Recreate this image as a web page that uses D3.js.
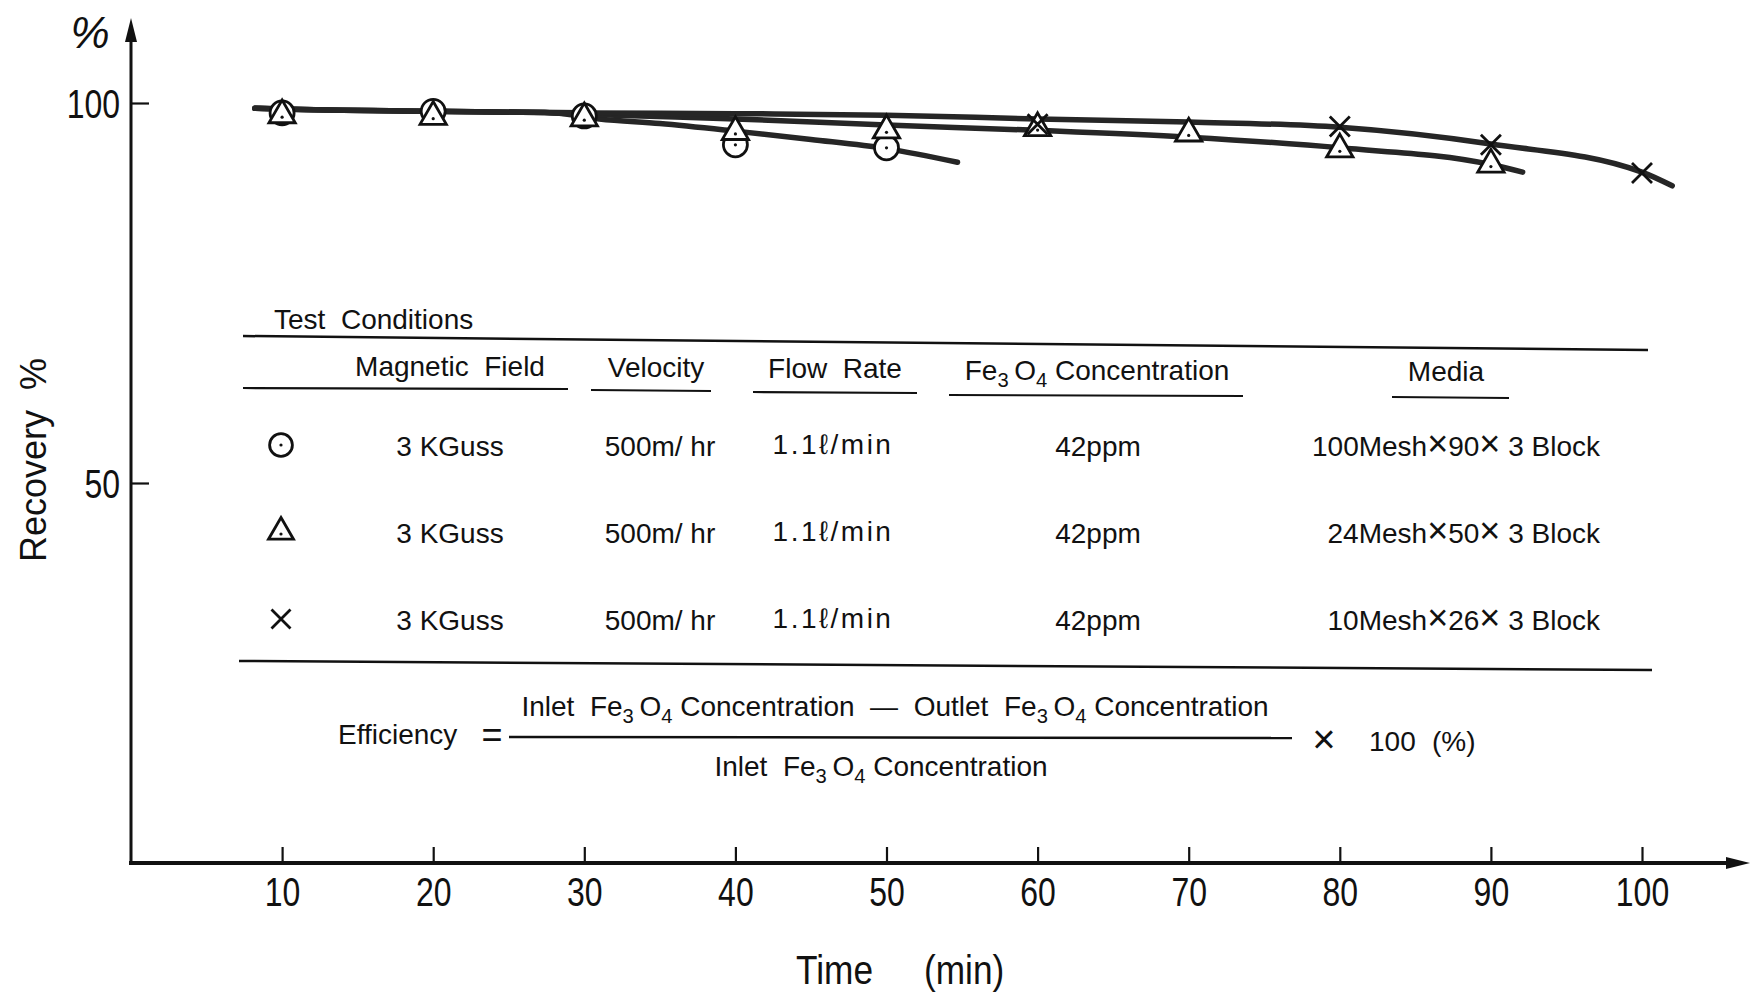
<!DOCTYPE html>
<html>
<head>
<meta charset="utf-8">
<script src="https://cdn.jsdelivr.net/npm/d3@7"></script>
<style>
body { margin: 0; background: #fff; }
svg { display: block; }
.axis .tick text { font-family: "Liberation Sans", sans-serif; font-size: 41px; fill: #111; }
.axis .tick line { stroke: #111; stroke-width: 2.2; }
.tbl { font-family: "Liberation Sans", Arial, sans-serif; font-size: 28px; fill: #111; }
</style>
</head>
<body>
<div id="chart"></div>
<script>
// axis ticks
var timeTicks = [10, 20, 30, 40, 50, 60, 70, 80, 90, 100];
var recoveryTicks = [50, 100];
var recoveryTickLabels = ["50", "100"];

// measured points (markers)
var circleTime = [10, 20, 30, 40, 50];
var circleRecovery = [98.7, 98.9, 98.3, 94.5, 94.1];
var triangleTime = [10, 20, 30, 40, 50, 60, 70, 80, 90];
var triangleRecovery = [98.4, 98.2, 98.0, 96.2, 96.4, 96.7, 96.0, 93.9, 91.9];
var crossTime = [60, 80, 90, 100];
var crossRecovery = [97.2, 96.9, 94.5, 90.8];

// hand drawn trend curves
var circleCurveTime = [8.2, 10, 20, 28, 31, 35, 40, 45, 50, 54.7];
var circleCurveRecovery = [99.3, 99.2, 98.9, 98.7, 97.9, 97.3, 96.3, 95.2, 94.0, 92.2];
var triangleCurveTime = [8.2, 10, 20, 28, 32, 40, 50, 60, 70, 80, 90, 92.1];
var triangleCurveRecovery = [99.3, 99.2, 98.9, 98.7, 98.4, 97.9, 97.1, 96.4, 95.5, 94.1, 91.9, 90.9];
var crossCurveTime = [8.2, 10, 20, 30, 40, 50, 60, 70, 80, 90, 100, 102];
var crossCurveRecovery = [99.3, 99.2, 98.9, 98.7, 98.6, 98.4, 97.9, 97.5, 96.8, 94.6, 90.9, 89.1];

// test conditions table
var tableHeaders = ["Magnetic  Field", "Velocity", "Flow  Rate", "Fe3O4 Concentration", "Media"];
var rowSymbols = ["circle", "triangle", "cross"];
var magneticField = ["3 KGuss", "3 KGuss", "3 KGuss"];
var velocity = ["500m/ hr", "500m/ hr", "500m/ hr"];
var flowRate = ["1.1\u2113/min", "1.1\u2113/min", "1.1\u2113/min"];
var concentration = ["42ppm", "42ppm", "42ppm"];
var media = ["100Mesh\u00d790\u00d7 3 Block", "24Mesh\u00d750\u00d7 3 Block", "10Mesh\u00d726\u00d7 3 Block"];


var width = 1754,
    height = 993;

var svg = d3.select("#chart").append("svg")
    .attr("width", width)
    .attr("height", height);

svg.append("rect").attr("width", width).attr("height", height).attr("fill", "#fff");

// scales
var x = d3.scaleLinear().domain([0, 100]).range([131, 1642]);
var y = d3.scaleLinear().domain([0, 100]).range([863, 103]);

var narrow = "scale(0.78,1)";

// x axis - ticks pointing up, labels under
var xAxis = d3.axisBottom(x)
    .tickValues(timeTicks)
    .tickSize(-16)
    .tickPadding(14);
var gx = svg.append("g")
    .attr("class", "axis")
    .attr("transform", "translate(0," + y(0) + ")")
    .call(xAxis);
gx.select(".domain").remove();
gx.selectAll(".tick text").attr("transform", narrow);

// y axis - ticks pointing right
var yAxis = d3.axisLeft(y)
    .tickValues(recoveryTicks)
    .tickSize(-18)
    .tickPadding(14)
    .tickFormat(function(d, i) { return recoveryTickLabels[i]; });
var gy = svg.append("g")
    .attr("class", "axis")
    .attr("transform", "translate(" + x(0) + ",0)")
    .call(yAxis);
gy.select(".domain").remove();
gy.selectAll(".tick text").attr("transform", narrow).attr("dy", "0.36em");
gy.selectAll(".tick line").attr("stroke-width", 2.8);

// axis lines with arrow heads
svg.append("line")
    .attr("x1", x(0)).attr("x2", x(0))
    .attr("y1", y(0) + 2).attr("y2", 30)
    .attr("stroke", "#111").attr("stroke-width", 3);
svg.append("path")
    .attr("d", "M" + x(0) + ",18 L" + (x(0) - 6) + ",42 L" + (x(0) + 6) + ",42 Z")
    .attr("fill", "#111");
svg.append("line")
    .attr("x1", x(0) - 2).attr("x2", 1735)
    .attr("y1", y(0)).attr("y2", y(0))
    .attr("stroke", "#111").attr("stroke-width", 4);
svg.append("path")
    .attr("d", "M1750," + y(0) + " L1726," + (y(0) - 6) + " L1726," + (y(0) + 6) + " Z")
    .attr("fill", "#111");


// axis titles
svg.append("text")
    .text("%")
    .attr("x", 90)
    .attr("y", 48)
    .attr("text-anchor", "middle")
    .style("font-family", "Liberation Sans, sans-serif")
    .style("font-size", "44px")
    .style("font-style", "italic")
    .attr("fill", "#111");

svg.append("text")
    .text("Recovery  %")
    .attr("transform", "translate(46,460) rotate(-90)")
    .attr("text-anchor", "middle")
    .attr("xml:space", "preserve")
    .style("font-family", "Liberation Sans, sans-serif")
    .style("font-size", "36px")
    .attr("fill", "#111");

svg.append("text")
    .text("Time")
    .attr("transform", "translate(796,984) scale(0.86,1)")
    .style("font-family", "Liberation Sans, sans-serif")
    .style("font-size", "41px")
    .attr("fill", "#111");
svg.append("text")
    .text("(min)")
    .attr("transform", "translate(924,984) scale(0.86,1)")
    .style("font-family", "Liberation Sans, sans-serif")
    .style("font-size", "41px")
    .attr("fill", "#111");


// trend curves
function zip(ts, rs) {
    return ts.map(function(t, i) { return { t: t, r: rs[i] }; });
}
var curve = d3.line()
    .x(function(d) { return x(d.t); })
    .y(function(d) { return y(d.r); })
    .curve(d3.curveMonotoneX);

[[circleCurveTime, circleCurveRecovery],
 [triangleCurveTime, triangleCurveRecovery],
 [crossCurveTime, crossCurveRecovery]].forEach(function(c) {
    svg.append("path")
        .datum(zip(c[0], c[1]))
        .attr("d", curve)
        .attr("fill", "none")
        .attr("stroke", "#262626")
        .attr("stroke-width", 5.5)
        .attr("stroke-linecap", "round");
});


// marker drawing
function drawMarker(g, kind, cx, cy, s) {
    var m = g.append("g").attr("transform", "translate(" + cx + "," + cy + ")");
    if (kind == "circle") {
        m.append("circle").attr("r", 12 * s)
            .attr("fill", "#fff").attr("stroke", "#111").attr("stroke-width", 2.8);
        m.append("circle").attr("r", 1.6).attr("fill", "#111");
    } else if (kind == "triangle") {
        m.append("path")
            .attr("d", d3.symbol().type(d3.symbolTriangle).size(300 * s * s))
            .attr("fill", "#fff").attr("stroke", "#111").attr("stroke-width", 2.8);
        m.append("circle").attr("r", 1.6).attr("cy", 2).attr("fill", "#111");
    } else {
        var r = 10 * s;
        m.append("path")
            .attr("d", "M" + (-r) + "," + (-r) + "L" + r + "," + r + "M" + (-r) + "," + r + "L" + r + "," + (-r))
            .attr("fill", "none").attr("stroke", "#111").attr("stroke-width", 2.8);
    }
}

var markers = svg.append("g");
zip(circleTime, circleRecovery).forEach(function(d) { drawMarker(markers, "circle", x(d.t), y(d.r), 1); });
zip(triangleTime, triangleRecovery).forEach(function(d) { drawMarker(markers, "triangle", x(d.t), y(d.r), 1); });
zip(crossTime, crossRecovery).forEach(function(d) { drawMarker(markers, "cross", x(d.t), y(d.r), 1); });


// text with Fe3O4 subscripts
function richText(t, str) {
    var parts = str.split("Fe3O4");
    var shift = 0;
    parts.forEach(function(p, i) {
        if (i > 0) {
            t.append("tspan").attr("dy", -shift).text("Fe"); shift = 0;
            t.append("tspan").attr("dy", 7).attr("font-size", "0.72em").text("3");
            t.append("tspan").attr("dy", -7).text("\u2009O");
            t.append("tspan").attr("dy", 7).attr("font-size", "0.72em").text("4");
            shift = 7;
        }
        if (p.length) {
            t.append("tspan").attr("dy", -shift).text(p);
            shift = 0;
        }
    });
    return t;
}

// text with a larger multiplication sign
function timesText(t, str) {
    str.split("\u00d7").forEach(function(p, i) {
        if (i > 0) t.append("tspan").attr("font-size", "36px").text("\u00d7");
        if (p.length) t.append("tspan").text(p);
    });
    return t;
}

var tbl = svg.append("g").attr("class", "tbl");

tbl.append("text").attr("x", 274).attr("y", 329).text("Test  Conditions").attr("xml:space", "preserve");

// rules (scan is slightly tilted)
var rule = function(x1, y1, x2, y2, w) {
    tbl.append("line")
        .attr("x1", x1).attr("y1", y1).attr("x2", x2).attr("y2", y2)
        .attr("stroke", "#111").attr("stroke-width", w);
};
rule(243, 336, 1648, 350, 2.5);
rule(239, 661, 1652, 670, 2.5);

var headerX = [450, 656, 835, 1097, 1446];
var headerY = [376, 377, 378, 380, 381];
var underline = [[243, 568, 388], [591, 711, 390], [753, 917, 392], [949, 1243, 395], [1392, 1509, 397]];
tableHeaders.forEach(function(h, i) {
    var t = tbl.append("text")
        .attr("x", headerX[i]).attr("y", headerY[i])
        .attr("xml:space", "preserve")
        .attr("text-anchor", "middle");
    richText(t, h);
    rule(underline[i][0], underline[i][2], underline[i][1], underline[i][2] + 1, 2.2);
});

var rowY = [456, 543, 630];
rowSymbols.forEach(function(s, i) {
    drawMarker(tbl, s, 281, rowY[i] - 11, 0.95);
    tbl.append("text").attr("x", 450).attr("y", rowY[i]).attr("text-anchor", "middle").text(magneticField[i]);
    tbl.append("text").attr("x", 660).attr("y", rowY[i]).attr("text-anchor", "middle").text(velocity[i]);
    tbl.append("text").attr("x", 833).attr("y", rowY[i] - 2).attr("text-anchor", "middle")
        .style("letter-spacing", "2.5px").text(flowRate[i]);
    tbl.append("text").attr("x", 1098).attr("y", rowY[i]).attr("text-anchor", "middle").text(concentration[i]);
    timesText(tbl.append("text").attr("x", 1600).attr("y", rowY[i]).attr("text-anchor", "end"), media[i]);
});


// efficiency formula
tbl.append("text").attr("x", 338).attr("y", 744).text("Efficiency");
tbl.append("text").attr("x", 492).attr("y", 747).attr("text-anchor", "middle").style("font-size", "36px").text("=");
rule(509, 737, 1292, 738, 2.5);
richText(tbl.append("text").attr("x", 895).attr("y", 716).attr("text-anchor", "middle"),
    "Inlet  Fe3O4 Concentration  \u2014  Outlet  Fe3O4 Concentration").attr("xml:space", "preserve");
richText(tbl.append("text").attr("x", 881).attr("y", 776).attr("text-anchor", "middle"),
    "Inlet  Fe3O4 Concentration").attr("xml:space", "preserve");
tbl.append("text").attr("x", 1324).attr("y", 753).attr("text-anchor", "middle").style("font-size", "40px").text("\u00d7");
tbl.append("text").attr("x", 1369).attr("y", 751).text("100");
tbl.append("text").attr("x", 1432).attr("y", 751).text("(%)");
</script>
</body>
</html>
